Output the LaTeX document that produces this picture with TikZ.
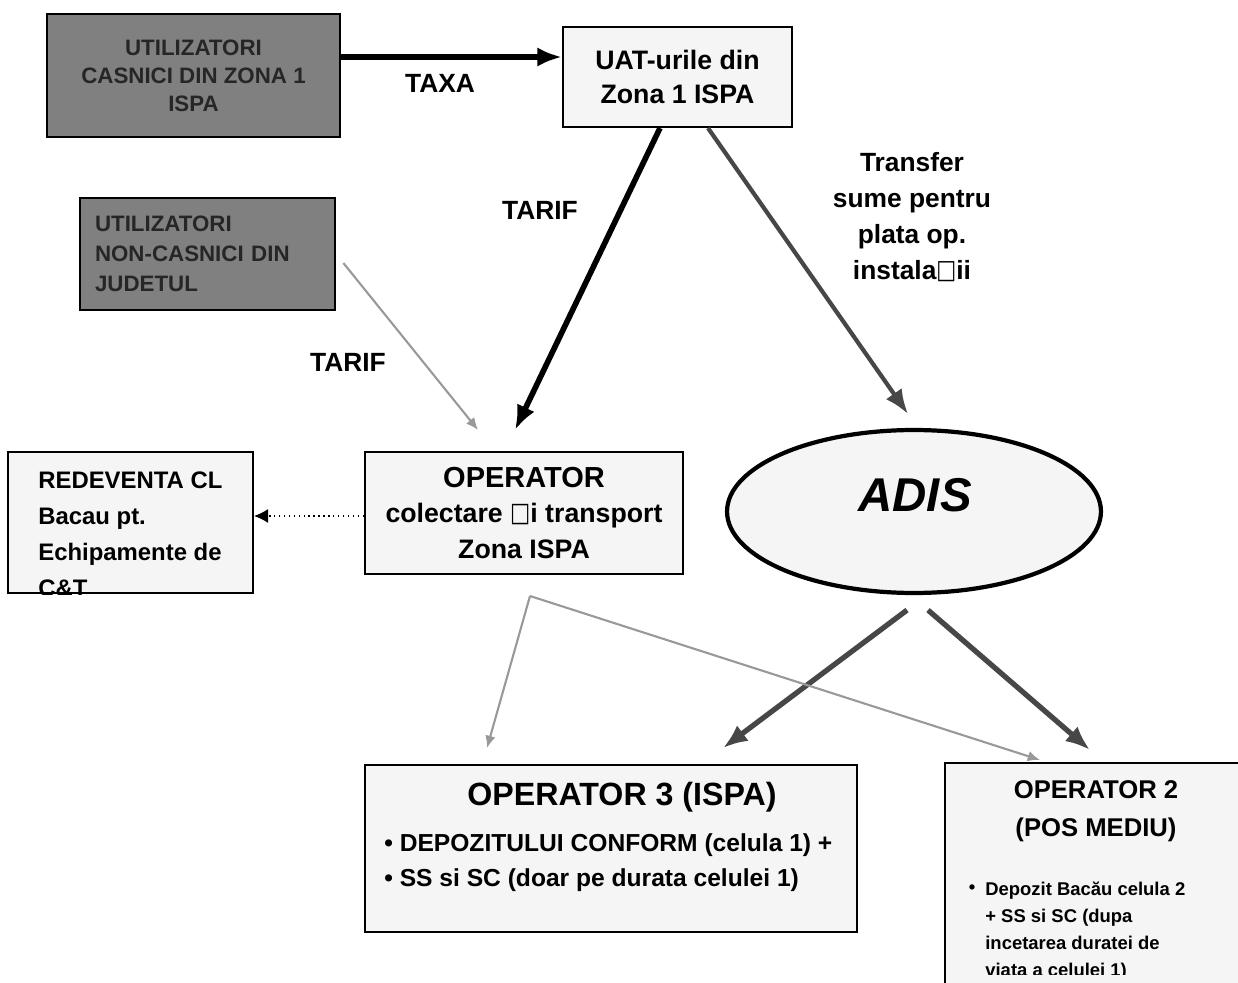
\documentclass[tikz,border=0pt]{standalone}
\usepackage{fontspec}
\setmainfont{Liberation Sans}
\newfontfamily\symfont{DejaVu Sans}
\usetikzlibrary{arrows.meta,shapes.geometric}

\newcommand{\sq}{{\symfont\mdseries\raisebox{0.1ex}{\scalebox{0.8}[1]{□}}}}

\tikzset{
  darkbox/.style={draw=black, line width=1.6pt, fill=black!50, text=black!85,
    font=\bfseries\fontsize{12.7}{16}\selectfont, align=center, inner sep=0pt},
  lightbox/.style={draw=black, line width=1.2pt, fill=black!4, inner sep=0pt},
  boxtext/.style={font=\bfseries\fontsize{15.2}{19.5}\selectfont, align=center},
  lbl/.style={font=\bfseries\fontsize{15}{20.5}\selectfont, align=center},
  thickarrow/.style={line width=3.2pt, -{Latex[length=14pt,width=11pt]}},
  darkarrow/.style={line width=3pt, draw=black!72, -{Latex[length=14pt,width=11pt]}},
  grayarrow/.style={line width=1.2pt, draw=black!40, -{Latex[length=7pt,width=6pt]}},
  dotarrow/.style={line width=0.8pt, dotted, -{Latex[length=8pt,width=8pt]}}
}

\begin{document}
\begin{tikzpicture}[x=0.02cm, y=-0.02cm]
  \clip (0,0) rectangle (1238,983);

  % users and UAT
  \node[darkbox, minimum width=5.86cm, minimum height=2.46cm] (casnici) at (193.5,75.5)
    {UTILIZATORI\\CASNICI DIN ZONA 1\\ISPA};
  \node[darkbox, align=left, text width=4.5cm, inner xsep=0.3cm, minimum height=2.24cm,
    font=\bfseries\fontsize{12.7}{17}\selectfont] (nonca) at (207.5,254)
    {UTILIZATORI\\NON-CASNICI DIN\\JUDETUL};
  \node[lightbox, boxtext, minimum width=4.58cm, minimum height=2cm] (uat) at (677.5,77)
    {UAT-urile din\\Zona 1 ISPA};

  % operator and redeventa
  \node[lightbox, boxtext, font=\bfseries\fontsize{15.2}{20}\selectfont,
    minimum width=6.36cm, minimum height=2.44cm] (oper) at (524,513)
    {{\fontsize{16.5}{20}\selectfont OPERATOR}\\colectare \sq i transport\\Zona ISPA};
  \node[lightbox, minimum width=4.9cm, minimum height=2.82cm] (redev) at (130.5,522.5) {};
  \begin{scope}
    \clip (redev.south west) rectangle (redev.north east);
    \node[anchor=north west, inner sep=0pt, align=left,
      font=\bfseries\fontsize{13.6}{20.5}\selectfont] (redevtext) at (38,471)
      {REDEVENTA CL\\Bacau pt.\\Echipamente de\\C\&T};
  \end{scope}

  % ADIS
  \node[draw, ellipse, line width=2.4pt, fill=black!4, minimum width=7.48cm,
    minimum height=3.26cm] (adis) at (914,511.5) {};
  \node[font=\bfseries\itshape\fontsize{27}{30}\selectfont] (adislbl) at (915,495) {ADIS};

  % operator 3
  \node[lightbox, minimum width=9.84cm, minimum height=3.34cm] (op3) at (611,848.5) {};
  \node[font=\bfseries\fontsize{18.3}{22}\selectfont] (op3title) at (622,797) {OPERATOR 3 (ISPA)};
  \node[anchor=west, inner sep=0pt, align=left, font=\bfseries\fontsize{14}{20}\selectfont]
    (op3items) at (384,862.5)
    {\textbullet\ DEPOZITULUI CONFORM (celula 1) +\\\textbullet\ SS si SC (doar pe durata celulei 1)};

  % operator 2
  \node[lightbox, minimum width=6.1cm, minimum height=4.74cm] (op2) at (1097.5,881.5) {};
  \node[align=center, font=\bfseries\fontsize{14.6}{21.5}\selectfont] (op2title) at (1096,811)
    {OPERATOR 2\\(POS MEDIU)};
  \node[font=\bfseries\fontsize{10.5}{14}\selectfont] (op2bullet) at (972,889) {\textbullet};
  \begin{scope}
    \clip (op2.north west) rectangle (1238,974);
    \node[anchor=north west, inner sep=0pt, align=left, font=\bfseries\fontsize{10.5}{15.3}\selectfont]
      (op2items) at (985,882)
      {Depozit Bacău celula 2\\+ SS si SC (dupa\\incetarea duratei de\\viata a celulei 1)};
  \end{scope}

  % labels
  \node[lbl] (taxa) at (440,83) {TAXA};
  \node[lbl] (tarifa) at (540,210) {TARIF};
  \node[lbl] (tarifb) at (348,362) {TARIF};
  \node[lbl] (transfer) at (912,217) {Transfer\\sume pentru\\plata op.\\instala\sq ii};

  % free ends
  \coordinate (tipoper) at (515,430);
  \coordinate (tipnonca) at (478,430);
  \coordinate (tipadis) at (908,414);
  \coordinate (tipop3) at (723,748);
  \coordinate (tipop2) at (1090,750);
  \coordinate (split) at (530,596);
  \coordinate (grayop3) at (487,748);
  \coordinate (grayop2) at (1040,760);

  % connectors
  \draw[thickarrow] ([yshift=0.37cm]casnici.east) -- ([yshift=0.37cm]casnici.east -| uat.west);
  \draw[thickarrow] ([xshift=-0.35cm]uat.south) -- (tipoper);
  \draw[darkarrow, line width=2.4pt] ([xshift=0.61cm]uat.south) -- (tipadis);
  \draw[grayarrow] ([xshift=0.14cm,yshift=-0.18cm]nonca.east) -- (tipnonca);
  \draw[dotarrow] ([yshift=-0.06cm]oper.west) -- ([yshift=-0.06cm]oper.west -| redev.east);
  \draw[darkarrow] ([xshift=-0.14cm,yshift=-0.3cm]adis.south) -- (tipop3);
  \draw[darkarrow] ([xshift=0.28cm,yshift=-0.3cm]adis.south) -- (tipop2);
  \draw[grayarrow] (split) -- (grayop3);
  \draw[grayarrow] (split) -- (grayop2);
\end{tikzpicture}
\end{document}
